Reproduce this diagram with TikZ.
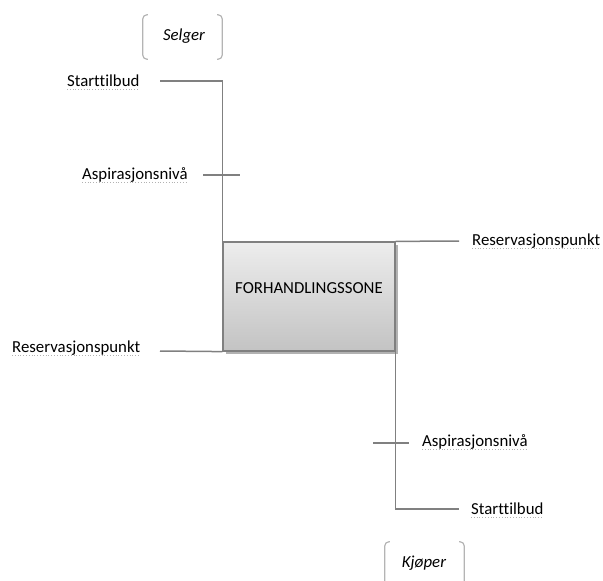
\documentclass[tikz,border=0pt]{standalone}
\usepackage{fontspec}
\setmainfont{Carlito}[Ligatures=NoCommon]
\usetikzlibrary{shadows}
\definecolor{linegray}{HTML}{808080}
\definecolor{brackgray}{HTML}{B4B4B4}
\definecolor{zonetop}{HTML}{EDEDED}
\definecolor{zonebot}{HTML}{C3C3C3}

\begin{document}
\begin{tikzpicture}[x=1pt,y=-1pt,
  lbl/.style={font=\fontsize{16.8}{18}\selectfont, inner sep=0pt, anchor=base west},
  party/.style={font=\fontsize{16.8}{18}\selectfont\itshape, inner sep=0pt, minimum width=79pt, minimum height=44pt},
  zone/.style={draw=linegray, line width=1.2pt, top color=zonetop, bottom color=zonebot,
    minimum width=172pt, minimum height=109pt, inner sep=0pt,
    drop shadow={shadow xshift=2.5pt, shadow yshift=-2.5pt, opacity=.3, fill=black}},
  leg/.style={draw=linegray, line width=1.5pt},
  brack/.style={draw=brackgray, line width=1.2pt, rounded corners=4pt},
  spellmark/.style={draw=gray!60, line width=.8pt, dotted}]
  \useasboundingbox (0,0) rectangle (603,581);

  % parties
  \node[party] (selger) at (182.5,37) {};
  \node[font=\fontsize{16.8}{18}\selectfont\itshape, inner sep=0pt, anchor=base] (selgertxt) at (184,40) {Selger};
  \node[party] (kjoper) at (424.5,564) {};
  \node[font=\fontsize{16.8}{18}\selectfont\itshape, inner sep=0pt, anchor=base] (kjopertxt) at (424,567) {Kjøper};
  \foreach \p in {selger,kjoper} {
    \draw[brack] ([xshift=5pt]\p.north west) -- (\p.north west) -- (\p.south west) -- ([xshift=5pt]\p.south west);
    \draw[brack] ([xshift=-5pt]\p.north east) -- (\p.north east) -- (\p.south east) -- ([xshift=-5pt]\p.south east);
  }

  % zone
  \node[zone] (sone) at (309,296.5) {};
  \node[font=\fontsize{16.8}{18}\selectfont, inner sep=0pt] (sonetxt) at ([yshift=8.5pt]sone.center) {FORHANDLINGSSONE};

  % labels
  \node[lbl] (st1) at (67,86) {Starttilbud};
  \node[lbl] (asp1) at (82,179) {Aspirasjonsnivå};
  \node[lbl] (res1) at (472,245) {Reservasjonspunkt};
  \node[lbl] (res2) at (12,352) {Reservasjonspunkt};
  \node[lbl] (asp2) at (422,446) {Aspirasjonsnivå};
  \node[lbl] (st2) at (471,514) {Starttilbud};
  \foreach \n in {st1,asp1,res1,res2,asp2,st2}
    \draw[spellmark] ([yshift=-3.5pt]\n.base west) -- ([yshift=-3.5pt]\n.base east);

  % line ends
  \coordinate (st1e) at (160,81);
  \coordinate (asp1w) at (203,175);
  \coordinate (asp1e) at (240,175);
  \coordinate (res1e) at (459,241);
  \coordinate (res2e) at (160,351);
  \coordinate (st2e) at (459,509);
  \coordinate (asp2w) at (373,443);
  \coordinate (asp2e) at (409,443);

  % seller side
  \draw[leg] (st1e) -| (sone.north west);
  \draw[leg] (asp1w) -- (asp1e);
  \draw[leg] (sone.north east) -- (res1e);
  % buyer side
  \draw[leg] (sone.south west) -- (res2e);
  \draw[leg] (sone.south east) |- (st2e);
  \draw[leg] (asp2w) -- (asp2e);
\end{tikzpicture}
\end{document}
